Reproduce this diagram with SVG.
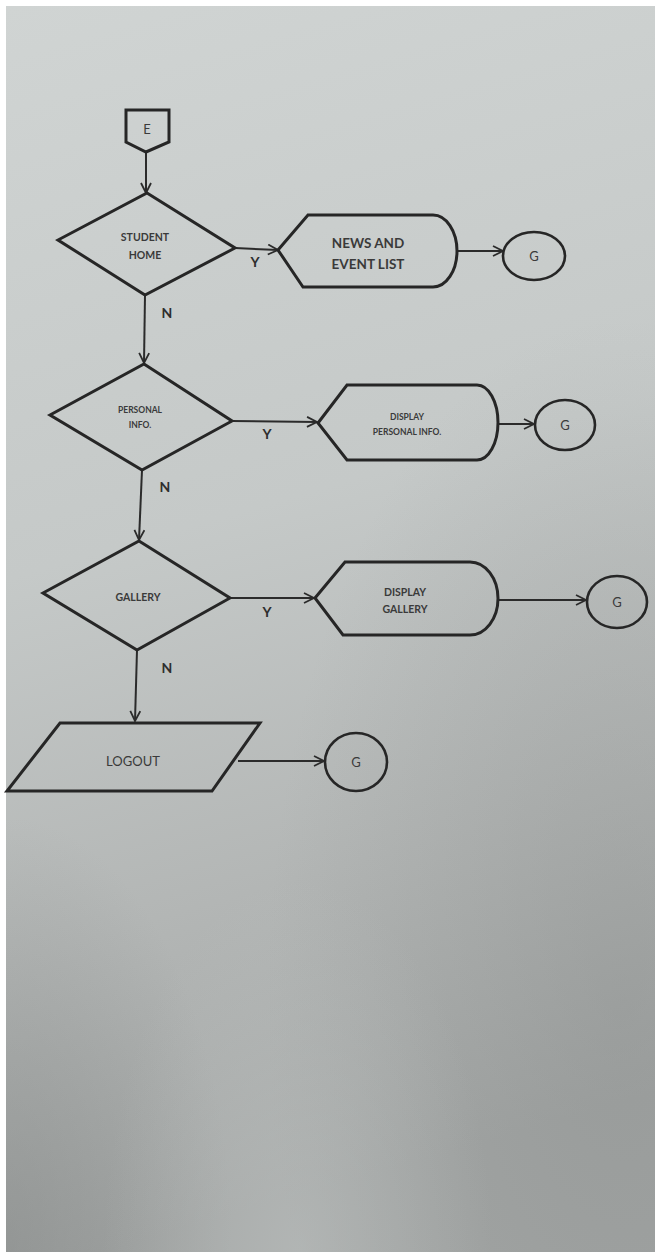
<svg xmlns="http://www.w3.org/2000/svg" width="655" height="1252" viewBox="0 0 655 1252">
  <defs>
    <linearGradient id="paper" x1="0" y1="0" x2="0.15" y2="1">
      <stop offset="0" stop-color="#d0d4d3"/>
      <stop offset="0.45" stop-color="#c5c9c8"/>
      <stop offset="0.75" stop-color="#b3b6b5"/>
      <stop offset="1" stop-color="#a3a6a5"/>
    </linearGradient>
    <radialGradient id="shade" cx="0.95" cy="0.8" r="0.55">
      <stop offset="0" stop-color="#858887" stop-opacity="0.35"/>
      <stop offset="1" stop-color="#858887" stop-opacity="0"/>
    </radialGradient>
    <radialGradient id="corner" cx="0" cy="1" r="0.35">
      <stop offset="0" stop-color="#7e8180" stop-opacity="0.45"/>
      <stop offset="1" stop-color="#7e8180" stop-opacity="0"/>
    </radialGradient>
    <radialGradient id="glow" cx="0.45" cy="1" r="0.3">
      <stop offset="0" stop-color="#c0c4c3" stop-opacity="0.5"/>
      <stop offset="1" stop-color="#c0c4c3" stop-opacity="0"/>
    </radialGradient>
    <marker id="arrow" viewBox="0 0 12 12" refX="11" refY="6" markerWidth="12" markerHeight="12" markerUnits="userSpaceOnUse" orient="auto">
      <path d="M1,1 L11,6 L1,11" fill="none" stroke="#2b2b2b" stroke-width="1.8"/>
    </marker>
    <style>
      .shape { fill: none; stroke: #262626; stroke-width: 3; stroke-linejoin: miter; }
      .term { fill: none; stroke: #262626; stroke-width: 2.6; }
      .edge { fill: none; stroke: #2b2b2b; stroke-width: 2; marker-end: url(#arrow); }
      .lbl { font-family: Lato, "Open Sans", "Liberation Sans", sans-serif; font-weight: bold; fill: #3a3a3a; text-anchor: middle; }
      .yn { font-family: Lato, "Open Sans", "Liberation Sans", sans-serif; font-weight: bold; font-size: 14px; fill: #2e2e2e; text-anchor: middle; }
      .g { font-family: Lato, "Open Sans", "Liberation Sans", sans-serif; font-size: 13px; fill: #3a3a3a; text-anchor: middle; }
    </style>
  </defs>

  <!-- paper -->
  <rect width="655" height="1252" fill="#ffffff"/>
  <rect x="6" y="6" width="649" height="1246" fill="url(#paper)"/>
  <rect x="6" y="6" width="649" height="1246" fill="url(#shade)"/>
  <rect x="6" y="6" width="649" height="1246" fill="url(#corner)"/>
  <rect x="6" y="6" width="649" height="1246" fill="url(#glow)"/>

  <!-- connectors -->
  <g id="connectors">
    <path class="edge" d="M146,152 L146,193"/>
    <path class="edge" d="M235,248 L278,250"/>
    <path class="edge" d="M457,251 L503,251"/>
    <path class="edge" d="M145,295 L144,363"/>
    <path class="edge" d="M232,421 L317,422"/>
    <path class="edge" d="M498,424 L534,424"/>
    <path class="edge" d="M142,470 L139,540"/>
    <path class="edge" d="M230,598 L314,598"/>
    <path class="edge" d="M498,600 L586,600"/>
    <path class="edge" d="M137,650 L135,721"/>
    <path class="edge" d="M238,761 L324,761"/>
  </g>

  <!-- edge labels -->
  <g id="edge-labels">
    <text class="yn" x="255" y="267">Y</text>
    <text class="yn" x="167" y="318">N</text>
    <text class="yn" x="267" y="439">Y</text>
    <text class="yn" x="165" y="492">N</text>
    <text class="yn" x="267" y="617">Y</text>
    <text class="yn" x="167" y="673">N</text>
  </g>

  <!-- off-page entry -->
  <g id="entry-e">
    <path class="shape" d="M126,110 L169,110 L169,142 L146,152 L126,142 Z"/>
    <text class="g" x="147" y="134" font-size="12">E</text>
  </g>

  <!-- student home decision -->
  <g id="decision-student-home">
    <path class="shape" d="M147,193 L235,248 L145,295 L58,240 Z"/>
    <text class="lbl" x="145" y="241" font-size="10.5">STUDENT</text>
    <text class="lbl" x="145" y="259" font-size="10.5">HOME</text>
  </g>

  <g id="display-news">
    <path class="shape" d="M278,250 L308,215 L433,215 A24,36 0 0 1 433,287 L303,287 Z"/>
    <text class="lbl" x="368" y="248" font-size="13.5">NEWS AND</text>
    <text class="lbl" x="368" y="269" font-size="13.5">EVENT LIST</text>
  </g>

  <g id="connector-g1">
    <ellipse class="term" cx="534" cy="256" rx="31" ry="24"/>
    <text class="g" x="534" y="261">G</text>
  </g>

  <!-- personal info decision -->
  <g id="decision-personal-info">
    <path class="shape" d="M144,364 L232,421 L142,470 L50,415 Z"/>
    <text class="lbl" x="140" y="413" font-size="8.5" font-weight="normal">PERSONAL</text>
    <text class="lbl" x="140" y="428" font-size="8.5" font-weight="normal">INFO.</text>
  </g>

  <g id="display-personal-info">
    <path class="shape" d="M318,423 L347,385 L477,385 A21,37.5 0 0 1 477,460 L347,460 Z"/>
    <text class="lbl" x="407" y="420" font-size="8.5">DISPLAY</text>
    <text class="lbl" x="407" y="435" font-size="8.5">PERSONAL INFO.</text>
  </g>

  <g id="connector-g2">
    <ellipse class="term" cx="565" cy="425" rx="30" ry="25"/>
    <text class="g" x="565" y="430">G</text>
  </g>

  <!-- gallery decision -->
  <g id="decision-gallery">
    <path class="shape" d="M139,541 L230,598 L137,650 L43,593 Z"/>
    <text class="lbl" x="138" y="601" font-size="10.5">GALLERY</text>
  </g>

  <g id="display-gallery">
    <path class="shape" d="M315,598 L345,562 L470,562 A28,36.5 0 0 1 470,635 L343,635 Z"/>
    <text class="lbl" x="405" y="596" font-size="10.5">DISPLAY</text>
    <text class="lbl" x="405" y="613" font-size="10.5">GALLERY</text>
  </g>

  <g id="connector-g3">
    <ellipse class="term" cx="617" cy="602" rx="30" ry="26"/>
    <text class="g" x="617" y="607">G</text>
  </g>

  <!-- logout -->
  <g id="io-logout">
    <path class="shape" d="M60,723 L260,723 L212,791 L7,791 Z"/>
    <text class="g" x="133" y="766" font-size="16.5">LOGOUT</text>
  </g>

  <g id="connector-g4">
    <ellipse class="term" cx="356" cy="762" rx="31" ry="29"/>
    <text class="g" x="356" y="767">G</text>
  </g>
</svg>
